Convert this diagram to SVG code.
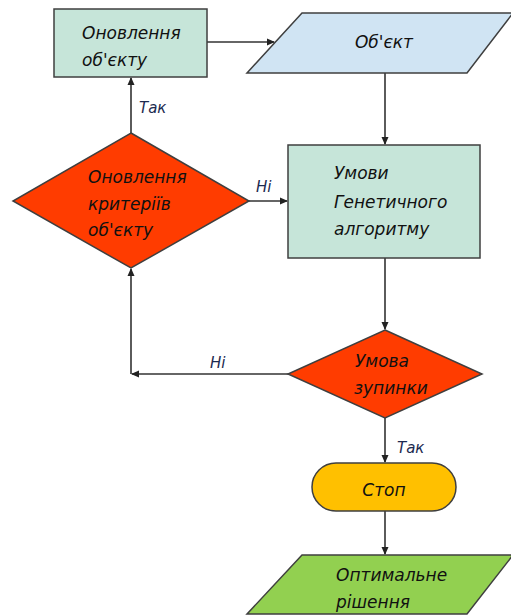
<svg xmlns="http://www.w3.org/2000/svg" width="511" height="616" viewBox="0 0 511 616">
<defs>
<marker id="arr" markerWidth="8" markerHeight="8" refX="7" refY="4" orient="auto" markerUnits="userSpaceOnUse">
<path d="M0,0.5 L8,4 L0,7.5 z" fill="#222"/>
</marker>
<style>
.sh{stroke:#3f3f3f;stroke-width:1.5}
.t{font-family:"DejaVu Sans",sans-serif;font-style:italic;font-size:17px;fill:#111}
.lb{font-family:"DejaVu Sans",sans-serif;font-style:italic;font-size:15px;fill:#1c2a50}
.c{fill:none;stroke:#333;stroke-width:1.6}
</style>
</defs>
<rect width="511" height="616" fill="#fff"/>
<g id="connectors">
<path class="c" d="M207,42 H274" marker-end="url(#arr)"/>
<path class="c" d="M385,73 V144" marker-end="url(#arr)"/>
<path class="c" d="M131,133 V78" marker-end="url(#arr)"/>
<path class="c" d="M249,201 H287" marker-end="url(#arr)"/>
<path class="c" d="M385,258 V329" marker-end="url(#arr)"/>
<path class="c" d="M288,374 H132" marker-end="url(#arr)"/>
<path class="c" d="M131,374 V269" marker-end="url(#arr)"/>
<path class="c" d="M385,418 V462" marker-end="url(#arr)"/>
<path class="c" d="M385,511 V554" marker-end="url(#arr)"/>
<text class="lb" x="139" y="113">Так</text>
<text class="lb" x="256" y="192">Ні</text>
<text class="lb" x="210" y="368">Ні</text>
<text class="lb" x="397" y="453">Так</text>
</g>
<g id="update-object">
<rect class="sh" x="54" y="9" width="153" height="68" fill="#c6e5d9"/>
<text class="t" x="82" y="39">Оновлення</text>
<text class="t" x="82" y="66">об'єкту</text>
</g>
<g id="object">
<polygon class="sh" points="302,13 513,13 467,73 247,73" fill="#d0e4f3"/>
<text class="t" x="384" y="48" text-anchor="middle">Об'єкт</text>
</g>
<g id="update-criteria">
<polygon class="sh" points="131,133 249,201 131,268 13,201" fill="#ff3c00"/>
<text class="t" x="88" y="183">Оновлення</text>
<text class="t" x="88" y="210">критеріїв</text>
<text class="t" x="88" y="236">об'єкту</text>
</g>
<g id="ga-conditions">
<rect class="sh" x="288" y="145" width="192" height="113" fill="#c6e5d9"/>
<text class="t" x="334" y="179">Умови</text>
<text class="t" x="334" y="208">Генетичного</text>
<text class="t" x="334" y="235">алгоритму</text>
</g>
<g id="stop-condition">
<polygon class="sh" points="385,330 482,374 385,418 288,374" fill="#ff3c00"/>
<text class="t" x="355" y="367">Умова</text>
<text class="t" x="354" y="394">зупинки</text>
</g>
<g id="stop">
<rect class="sh" x="312" y="463" width="144" height="48" rx="24" fill="#ffc000"/>
<text class="t" x="384" y="496" text-anchor="middle">Стоп</text>
</g>
<g id="optimal">
<polygon class="sh" points="302,555 513,555 467,614 247,614" fill="#92d050"/>
<text class="t" x="336" y="581">Оптимальне</text>
<text class="t" x="336" y="608">рішення</text>
</g>
</svg>
